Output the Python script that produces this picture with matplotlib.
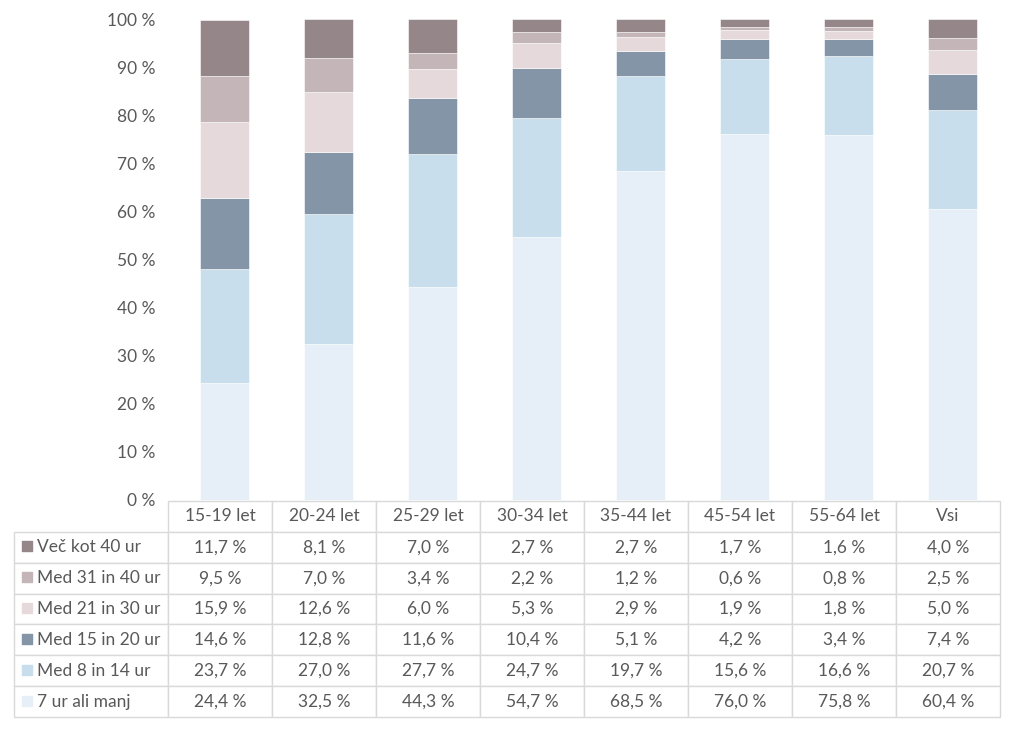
import numpy as np
import matplotlib.pyplot as plt

plt.rcParams['font.family'] = ['Lato', 'DejaVu Sans']

categories = ['15-19 let', '20-24 let', '25-29 let', '30-34 let',
              '35-44 let', '45-54 let', '55-64 let', 'Vsi']

# rows as they appear in the table (top to bottom)
series_names = ['Več kot 40 ur', 'Med 31 in 40 ur', 'Med 21 in 30 ur',
                'Med 15 in 20 ur', 'Med 8 in 14 ur', '7 ur ali manj']
vec_40 = [11.7, 8.1, 7.0, 2.7, 2.7, 1.7, 1.6, 4.0]
med_31_40 = [9.5, 7.0, 3.4, 2.2, 1.2, 0.6, 0.8, 2.5]
med_21_30 = [15.9, 12.6, 6.0, 5.3, 2.9, 1.9, 1.8, 5.0]
med_15_20 = [14.6, 12.8, 11.6, 10.4, 5.1, 4.2, 3.4, 7.4]
med_8_14 = [23.7, 27.0, 27.7, 24.7, 19.7, 15.6, 16.6, 20.7]
do_7 = [24.4, 32.5, 44.3, 54.7, 68.5, 76.0, 75.8, 60.4]

series = [vec_40, med_31_40, med_21_30, med_15_20, med_8_14, do_7]
colors = ['#948689', '#c4b5b9', '#e5d9dc', '#8495a7', '#c8deec', '#e6eff7']

txt = '#595959'
grid = '#d9d9d9'

fig = plt.figure(figsize=(10.15, 7.29), dpi=100)
ax = fig.add_axes([168/1015, 1 - 500/729, 832/1015, 481/729])

x = np.arange(len(categories))
bottom = np.zeros(len(categories))
# stack from the bottom row of the table upwards
for vals, col in zip(series[::-1], colors[::-1]):
    ax.bar(x + 0.04, vals, width=0.47, bottom=bottom, color=col,
           edgecolor='white', linewidth=0.4)
    bottom += np.array(vals)

ax.set_xlim(-0.5, 7.5)
ax.set_ylim(0, 100)
ax.set_yticks(np.arange(0, 101, 10))
ax.set_yticklabels([f'{v} %' for v in range(0, 101, 10)])
ax.set_xticks([])
ax.tick_params(axis='y', length=0, pad=9, labelsize=12.5, labelcolor=txt)
for s in ax.spines.values():
    s.set_visible(False)

# data table under the chart
cell_text = []
for name, vals in zip(series_names, series):
    cell_text.append([name] + [f'{v:.1f} %'.replace('.', ',') for v in vals])

col_widths = [154] + [104] * len(categories)
tbl = ax.table(cellText=cell_text, colLabels=[''] + categories,
               colWidths=col_widths, cellLoc='center',
               bbox=[-154/832, -217/481, 986/832, 216/481])
tbl.auto_set_font_size(False)
tbl.set_fontsize(12.5)
for (r, c), cell in tbl.get_celld().items():
    cell.set_edgecolor(grid)
    cell.set_linewidth(1.0)
    cell.get_text().set_color(txt)
    if c == 0:
        cell.get_text().set_ha('left')
        cell.PAD = 0.15
    if r == 0 and c == 0:
        cell.visible_edges = ''

# colour keys in the label column
row_h = 216 / 7
for i, col in enumerate(colors):
    yc = -(31 + row_h * (i + 1) - row_h / 2) / 481
    ax.scatter([-141/832], [yc], marker='s', s=60, color=col,
               transform=ax.transAxes, clip_on=False)

fig.savefig('out.png', dpi=100)
